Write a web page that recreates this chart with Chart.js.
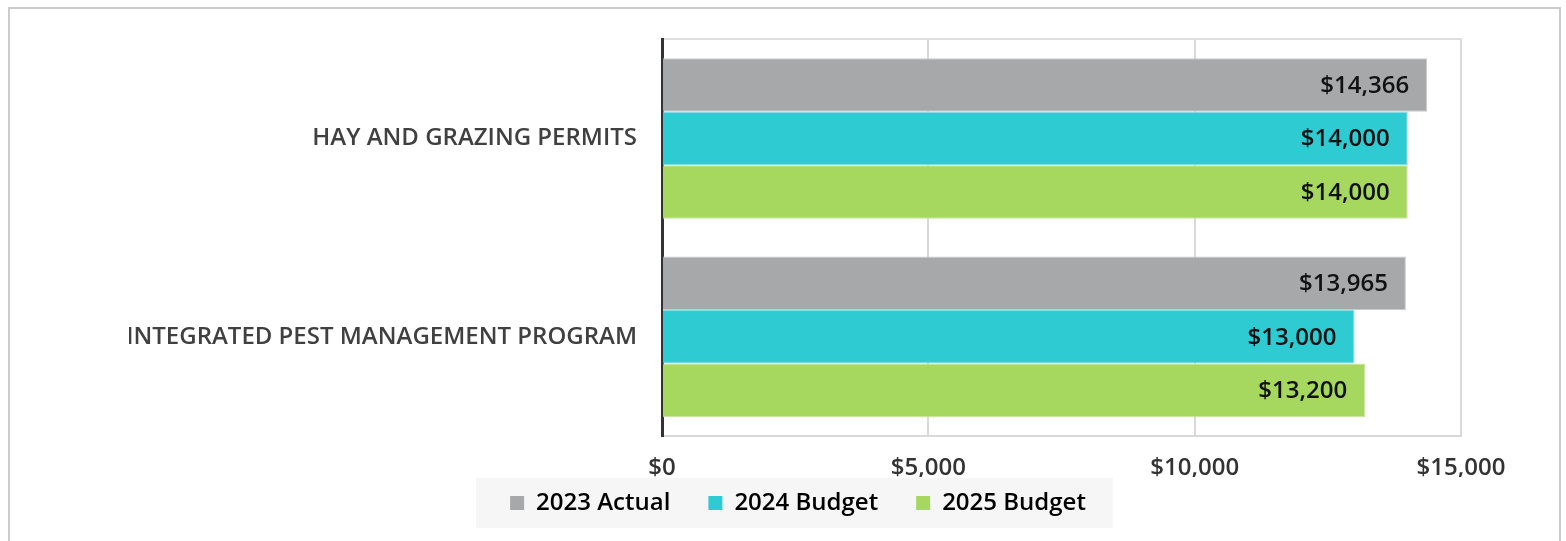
<!DOCTYPE html>
<html>
<head>
<meta charset="utf-8">
<script src="https://cdn.jsdelivr.net/npm/chart.js@4.4.1/dist/chart.umd.min.js"></script>
<style>
  html, body { margin: 0; padding: 0; background: #ffffff; overflow: hidden; }
  #frame { position: absolute; left: 8px; top: 7px; width: 1553px; height: 600px; border: 2px solid #cbcbcb; box-sizing: border-box; }
  #wrap { position: absolute; left: 0; top: 0; width: 1566px; height: 541px; }
</style>
</head>
<body>
<div id="frame"></div>
<div id="wrap"><canvas id="c" width="1566" height="541"></canvas></div>
<script>
const categories = ['HAY AND GRAZING PERMITS', 'INTEGRATED PEST MANAGEMENT PROGRAM'];
const seriesNames = ['2023 Actual', '2024 Budget', '2025 Budget'];
const actual2023 = [14366, 13965];
const budget2024 = [14000, 13000];
const budget2025 = [14000, 13200];
const xTickValues = [0, 5000, 10000, 15000];
const seriesColors = ['#a7a8aa', '#2ecbd3', '#a6d75e'];
const seriesBorders = ['#c9cacb', '#7fe0e5', '#c6e79a'];

const FONT = '"Open Sans", "Noto Sans", sans-serif';
const fmt = v => '$' + v.toLocaleString('en-US');

const dataLabels = {
  id: 'dataLabels',
  afterDatasetsDraw(chart) {
    const ctx = chart.ctx;
    ctx.save();
    ctx.font = '600 24px ' + FONT;
    ctx.fillStyle = '#111111';
    ctx.textAlign = 'right';
    ctx.textBaseline = 'middle';
    chart.data.datasets.forEach((ds, di) => {
      const meta = chart.getDatasetMeta(di);
      meta.data.forEach((bar, i) => {
        ctx.fillText(fmt(ds.data[i]), bar.x - 18, bar.y + 1);
      });
    });
    ctx.restore();
  }
};

const legendShift = {
  id: 'legendShift',
  afterLayout(chart) {
    if (chart.legend) { chart.legend.left += 15; chart.legend.right += 15; }
  }
};

const legendBg = {
  id: 'legendBg',
  beforeDraw(chart) {
    const lg = chart.legend;
    if (!lg || !lg.legendHitBoxes || !lg.legendHitBoxes.length) return;
    const hb = lg.legendHitBoxes;
    const left = hb[0].left - 34;
    const right = hb[hb.length - 1].left + hb[hb.length - 1].width - 24 + 27;
    const cy = hb[0].top + hb[0].height / 2;
    const ctx = chart.ctx;
    ctx.save();
    ctx.fillStyle = '#f6f6f6';
    ctx.fillRect(left, cy - 25, right - left, 50);
    ctx.restore();
  }
};

new Chart(document.getElementById('c'), {
  type: 'bar',
  data: {
    labels: categories,
    datasets: [
      { label: seriesNames[0], data: actual2023, backgroundColor: seriesColors[0], borderColor: seriesBorders[0], borderWidth: 1 },
      { label: seriesNames[1], data: budget2024, backgroundColor: seriesColors[1], borderColor: seriesBorders[1], borderWidth: 1 },
      { label: seriesNames[2], data: budget2025, backgroundColor: seriesColors[2], borderColor: seriesBorders[2], borderWidth: 1 }
    ]
  },
  options: {
    indexAxis: 'y',
    responsive: false,
    animation: false,
    devicePixelRatio: 1,
    layout: { padding: { left: 129, right: 105, top: 39, bottom: 16 } },
    datasets: { bar: { categoryPercentage: 0.81, barPercentage: 1.0 } },
    scales: {
      x: {
        min: 0, max: 15000,
        afterBuildTicks(scale) { scale.ticks = xTickValues.map(v => ({ value: v })); },
        afterFit(scale) { scale.height = 41; },
        grid: { color: '#d9d9d9', lineWidth: 2, drawTicks: false },
        border: { display: true, color: '#d9d9d9', width: 2 },
        ticks: {
          padding: 18,
          color: '#333333',
          font: { family: FONT, size: 24, weight: '600' },
          callback: v => fmt(v)
        }
      },
      x2: {
        position: 'top',
        min: 0, max: 15000,
        afterFit(scale) { scale.height = 0; },
        grid: { display: false, drawTicks: false },
        border: { display: true, color: '#dedede', width: 2 },
        ticks: { display: false }
      },
      y: {
        afterFit(scale) { scale.width = 533; },
        grid: { display: false, drawTicks: false },
        border: { display: true, color: '#333333', width: 3 },
        ticks: {
          padding: 25,
          color: '#404040',
          font: { family: FONT, size: 24, weight: '600' }
        }
      }
    },
    plugins: {
      tooltip: { enabled: false },
      legend: {
        position: 'bottom',
        labels: {
          boxWidth: 14,
          boxHeight: 14,
          padding: 14,
          color: '#3a3a3a',
          font: { family: FONT, size: 24, weight: '600' },
          generateLabels(chart) {
            return chart.data.datasets.map((ds, i) => ({
              text: ds.label + '\u2003',
              fillStyle: seriesColors[i],
              strokeStyle: seriesColors[i],
              lineWidth: 0,
              datasetIndex: i,
              hidden: false
            }));
          }
        }
      }
    }
  },
  plugins: [legendShift, legendBg, dataLabels]
});
</script>
</body>
</html>
